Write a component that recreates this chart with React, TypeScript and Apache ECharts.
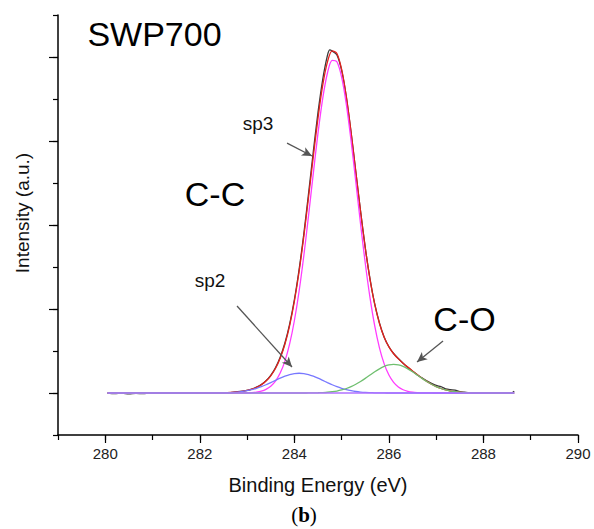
import React, { useEffect, useRef } from "react";
import * as echarts from "echarts";

// Shared binding-energy grid (eV) for the fitted curves
const energy = [
  280.05, 280.5, 281.0, 281.5, 282.0, 282.5, 282.8,
  283.0, 283.1, 283.2, 283.3, 283.4, 283.5, 283.6, 283.7, 283.8, 283.9,
  284.0, 284.1, 284.2, 284.3, 284.4, 284.5, 284.6, 284.7, 284.8, 284.9,
  285.0, 285.1, 285.2, 285.3, 285.4, 285.5, 285.6, 285.7, 285.8, 285.9,
  286.0, 286.1, 286.2, 286.3, 286.4, 286.5, 286.6, 286.7, 286.8, 286.9,
  287.0, 287.1, 287.2, 287.3, 287.4, 287.5, 287.6,
  287.8, 288.2, 288.65,
];

const sp3 = [
  1, 1, 1, 1, 1, 1, 1.002,
  1.005, 1.011, 1.023, 1.046, 1.088, 1.161, 1.282, 1.474, 1.76, 2.168,
  2.72, 3.422, 4.268, 5.222, 6.223, 7.186, 8.016, 8.619, 8.922, 8.888,
  8.52, 7.866, 7.001, 6.023, 5.025, 4.089, 3.27, 2.597, 2.076, 1.694,
  1.429, 1.254, 1.144, 1.078, 1.04, 1.02, 1.01, 1.004, 1.002, 1.001,
  1, 1, 1, 1, 1, 1, 1,
  1, 1, 1,
];

const sp2 = [
  1, 1, 1, 1, 1.001, 1.005, 1.023,
  1.055, 1.079, 1.111, 1.15, 1.196, 1.248, 1.301, 1.354, 1.4, 1.438,
  1.462, 1.47, 1.462, 1.438, 1.4, 1.354, 1.301, 1.248, 1.196, 1.15,
  1.111, 1.079, 1.055, 1.036, 1.023, 1.014, 1.009, 1.005, 1.003, 1.001,
  1, 1, 1, 1, 1, 1, 1, 1, 1, 1,
  1, 1, 1, 1, 1, 1, 1,
  1, 1, 1,
];

const cO = [
  1, 1, 1, 1, 1, 1, 1,
  1, 1, 1, 1, 1, 1, 1, 1, 1, 1,
  1, 1, 1, 1.001, 1.003, 1.006, 1.011, 1.018, 1.03, 1.047,
  1.073, 1.107, 1.152, 1.208, 1.275, 1.349, 1.428, 1.506, 1.576, 1.632,
  1.668, 1.68, 1.668, 1.632, 1.576, 1.506, 1.428, 1.349, 1.275, 1.208,
  1.152, 1.107, 1.073, 1.047, 1.03, 1.018, 1.011,
  1.003, 1, 1,
];

const envelope = [
  1, 1, 1, 1, 1.001, 1.005, 1.025,
  1.06, 1.09, 1.134, 1.196, 1.284, 1.409, 1.583, 1.828, 2.16, 2.606,
  3.182, 3.892, 4.73, 5.661, 6.626, 7.546, 8.328, 8.885, 9.148, 9.085,
  8.704, 8.052, 7.208, 6.267, 5.323, 4.452, 3.707, 3.108, 2.655, 2.327,
  2.097, 1.934, 1.812, 1.71, 1.616, 1.526, 1.438, 1.353, 1.277, 1.209,
  1.152, 1.107, 1.073, 1.047, 1.03, 1.018, 1.011,
  1.003, 1, 1,
];

// Measured spectrum
const dataEnergy = [
  280.05, 280.2, 280.35, 280.5, 280.65, 280.8, 280.95, 281.1, 281.25, 281.4,
  281.55, 281.7, 281.85, 282.0, 282.2, 282.4, 282.6, 282.8,
  283.0, 283.1, 283.2, 283.3, 283.4, 283.5, 283.6, 283.7, 283.8, 283.9,
  284.0, 284.1, 284.2, 284.3, 284.4, 284.5, 284.6, 284.7, 284.75, 284.8, 284.9,
  285.0, 285.1, 285.2, 285.3, 285.4, 285.5, 285.6, 285.7, 285.8, 285.9,
  286.0, 286.1, 286.2, 286.3, 286.4, 286.5, 286.6, 286.7, 286.8, 286.9,
  287.0, 287.1, 287.2, 287.3, 287.4, 287.5, 287.6, 287.7, 287.9,
  288.1, 288.3, 288.5, 288.6, 288.65,
];
const dataCounts = [
  1.0, 0.985, 0.995, 0.98, 0.99, 0.985, 0.995, 0.99, 1.0, 0.99,
  0.995, 1.0, 0.99, 0.995, 1.0, 0.995, 1.005, 1.03,
  1.065, 1.095, 1.14, 1.2, 1.29, 1.42, 1.6, 1.85, 2.19, 2.64,
  3.22, 3.94, 4.79, 5.75, 6.74, 7.68, 8.47, 9.04, 9.17, 9.14, 9.05,
  8.68, 8.04, 7.2, 6.26, 5.33, 4.46, 3.72, 3.12, 2.67, 2.33,
  2.1, 1.94, 1.82, 1.71, 1.61, 1.52, 1.43, 1.36, 1.29, 1.23,
  1.18, 1.15, 1.1, 1.08, 1.07, 1.03, 1.02, 1.01, 0.995,
  1.0, 0.99, 0.995, 1.0, 1.04,
];

const baselineEnergy = [280.05, 288.65];
const baselineValue = [1, 1];

const xMajorTicks = [280, 282, 284, 286, 288, 290];
const yMajorTicks = [1, 3, 5, 7, 9];

// Annotation arrows: [startEnergy, startIntensity, endEnergy, endIntensity]
const arrows = [
  [283.845, 6.95, 284.373, 6.643],
  [282.787, 3.07, 283.95, 1.62],
  [287.145, 2.238, 286.595, 1.738],
];

const pair = (xs: number[], ys: number[]) => xs.map((x, i) => [x, ys[i]]);

export default function App() {
  const ref = useRef<HTMLDivElement>(null);
  useEffect(() => {
    if (!ref.current) return;
    const chart = echarts.init(ref.current, undefined, { renderer: "svg" });
    const font = "'Liberation Sans', Arial, sans-serif";
    const lineSeries = (name: string, data: number[][], color: string, width = 1.3) => ({
      name,
      type: "line",
      data,
      showSymbol: false,
      smooth: 0.3,
      lineStyle: { color, width },
      silent: true,
    });
    chart.setOption({
      animation: false,
      backgroundColor: "#ffffff",
      grid: { left: 58, right: 16, top: 15, bottom: 94 },
      xAxis: [
        {
          type: "value",
          min: 279,
          max: 290,
          interval: 1,
          position: "bottom",
          name: "Binding Energy (eV)",
          nameLocation: "middle",
          nameGap: 40,
          nameTextStyle: { fontFamily: font, fontSize: 20, color: "#111" },
          axisLine: { show: true, onZero: false, lineStyle: { color: "#000", width: 1.5 } },
          axisTick: { show: true, inside: false, length: 5, lineStyle: { color: "#000", width: 1.2 } },
          axisLabel: {
            fontFamily: font,
            fontSize: 15,
            color: "#222",
            margin: 11,
            formatter: (v: number) => (xMajorTicks.includes(v) ? String(v) : ""),
          },
          splitLine: { show: false },
        },
        {
          type: "value",
          min: 279,
          max: 290,
          position: "bottom",
          axisLine: { show: false },
          axisTick: { show: true, length: 8, customValues: xMajorTicks, lineStyle: { color: "#000", width: 1.2 } },
          axisLabel: { show: false },
          splitLine: { show: false },
        },
      ],
      yAxis: [
        {
          type: "value",
          min: 0,
          max: 10,
          interval: 1,
          position: "left",
          name: "Intensity (a.u.)",
          nameLocation: "middle",
          nameGap: 26,
          nameRotate: 90,
          nameTextStyle: { fontFamily: font, fontSize: 19, color: "#111", padding: [0, 0, 0, 24] },
          axisLine: { show: true, onZero: false, lineStyle: { color: "#000", width: 1.5 } },
          axisTick: { show: true, length: 5, lineStyle: { color: "#000", width: 1.2 } },
          axisLabel: { show: false },
          splitLine: { show: false },
        },
        {
          type: "value",
          min: 0,
          max: 10,
          position: "left",
          axisLine: { show: false },
          axisTick: { show: true, length: 9, customValues: yMajorTicks, lineStyle: { color: "#000", width: 1.2 } },
          axisLabel: { show: false },
          splitLine: { show: false },
        },
      ],
      series: [
        lineSeries("data", pair(dataEnergy, dataCounts), "#3a3a3a", 1.3),
        lineSeries("envelope", pair(energy, envelope), "#e3211c", 1.3),
        lineSeries("sp3", pair(energy, sp3), "#ff3cff", 1.3),
        lineSeries("sp2", pair(energy, sp2), "#7878ff", 1.3),
        lineSeries("C-O", pair(energy, cO), "#6fbf6f", 1.3),
        {
          ...lineSeries("baseline", pair(baselineEnergy, baselineValue), "#b070ff", 1.6),
          markLine: {
            silent: true,
            symbol: ["none", "arrow"],
            symbolSize: [7, 10],
            label: { show: false },
            lineStyle: { color: "#555", width: 1.3, type: "solid" },
            data: arrows.map((a) => [{ coord: [a[0], a[1]] }, { coord: [a[2], a[3]] }]),
          },
        },
      ],
      graphic: [
        { type: "text", x: 154.5, y: 34, style: { text: "SWP700", fontFamily: font, fontSize: 34, fill: "#000", align: "center", verticalAlign: "middle" } },
        { type: "text", x: 215, y: 194, style: { text: "C-C", fontFamily: font, fontSize: 34, fill: "#000", align: "center", verticalAlign: "middle" } },
        { type: "text", x: 464.5, y: 319, style: { text: "C-O", fontFamily: font, fontSize: 34, fill: "#000", align: "center", verticalAlign: "middle" } },
        { type: "text", x: 258, y: 123, style: { text: "sp3", fontFamily: font, fontSize: 19, fill: "#111", align: "center", verticalAlign: "middle" } },
        { type: "text", x: 210, y: 280, style: { text: "sp2", fontFamily: font, fontSize: 19, fill: "#111", align: "center", verticalAlign: "middle" } },
        {
          type: "text",
          x: 304,
          y: 515,
          style: {
            text: "({b|b})",
            fontFamily: "'Liberation Serif', 'Times New Roman', serif",
            fontSize: 21,
            fill: "#000",
            align: "center",
            verticalAlign: "middle",
            rich: { b: { fontWeight: "bold", fontFamily: "'Liberation Serif', 'Times New Roman', serif", fontSize: 21, fill: "#000" } },
          },
        },
      ],
    });
    return () => chart.dispose();
  }, []);
  return (
    <div
      ref={ref}
      style={{ position: "fixed", left: 0, top: 0, width: 594, height: 529, background: "#fff" }}
    />
  );
}
